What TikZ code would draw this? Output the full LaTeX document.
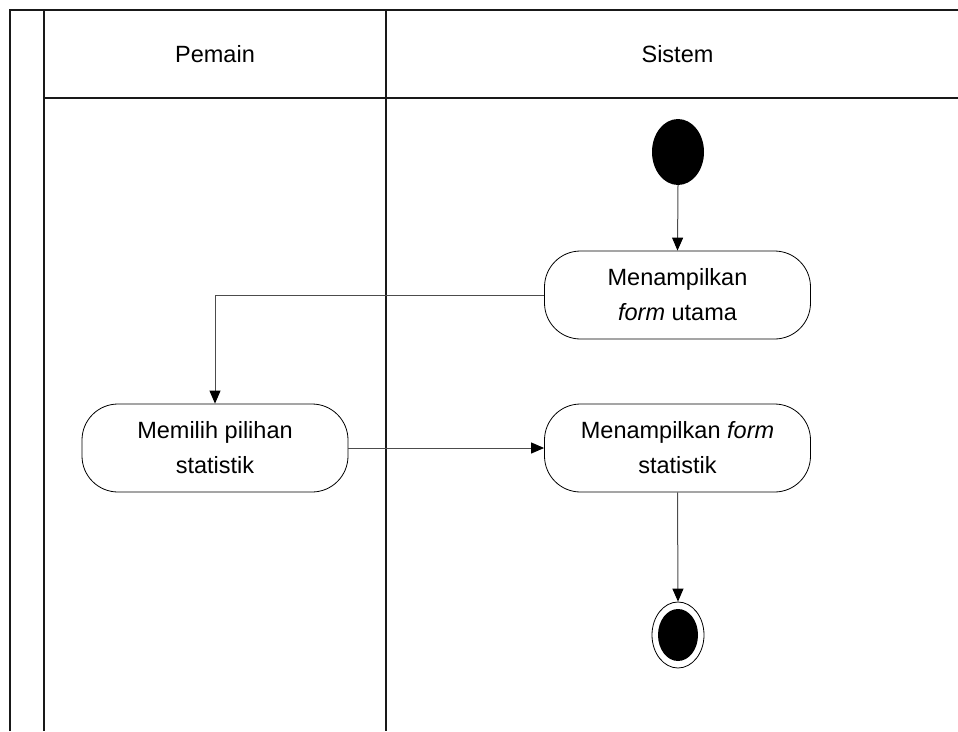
\documentclass[tikz,border=0pt]{standalone}
\usepackage{fontspec}
\setmainfont{Liberation Sans}
\usetikzlibrary{shapes.geometric,arrows.meta}
\begin{document}
\begin{tikzpicture}[x=1pt,y=-1pt,
  lane/.style={line width=1.3pt,black!90},
  act/.style={draw,line width=0.8pt,rectangle,rounded corners=36pt,minimum width=266pt,minimum height=88pt,align=center,inner sep=0pt,font=\fontsize{23.5}{35}\selectfont},
  flow/.style={line width=1pt,black!70,-{Triangle[length=13pt,width=11pt,black]}},
  hdr/.style={font=\fontsize{23.5}{28}\selectfont,inner sep=0pt}
]
\useasboundingbox (0,0) rectangle (958,731);
% swimlanes
\draw[lane] (10,731) -- (10,10) -- (958,10);
\draw[lane] (44,10) -- (44,731);
\draw[lane] (44,98) -- (958,98);
\draw[lane] (386,10) -- (386,731);
\node[hdr] (hp) at (215,54) {Pemain};
\node[hdr] (hs) at (677.5,54) {Sistem};
% nodes
\node[ellipse,fill=black,minimum width=52pt,minimum height=66pt,inner sep=0pt] (start) at (678,152) {};
\node[act] (utama) at (677.5,295) {Menampilkan\\\textit{form} utama};
\node[act] (memilih) at (215,448) {Memilih pilihan\\statistik};
\node[act] (stat) at (677.5,448) {Menampilkan \textit{form}\\statistik};
\node[ellipse,draw,line width=0.8pt,minimum width=52pt,minimum height=66pt,inner sep=0pt] (end) at (678,635) {};
\node[ellipse,fill=black,minimum width=40pt,minimum height=52pt,inner sep=0pt] (endin) at (end.center) {};
% connectors
\draw[flow] (start.south) -- (utama.north);
\draw[flow] (utama.west) -| (memilih.north);
\draw[flow] (memilih.east) -- (stat.west);
\draw[flow] (stat.south) -- (end.north);
\end{tikzpicture}
\end{document}
